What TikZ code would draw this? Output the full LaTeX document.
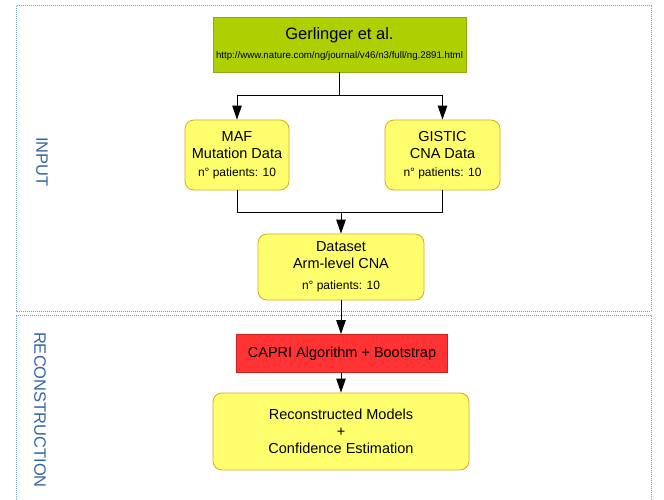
\documentclass[tikz,border=0pt]{standalone}
\usepackage{fontspec}
\setmainfont{Liberation Sans}
\usetikzlibrary{arrows.meta}
\definecolor{ybox}{HTML}{FFFF6D}
\definecolor{yedge}{HTML}{D9A81E}
\definecolor{gbox}{HTML}{AECF00}
\definecolor{gedge}{HTML}{8FAA10}
\definecolor{rbox}{HTML}{FF3333}
\definecolor{redge}{HTML}{C9211E}
\definecolor{frameblue}{HTML}{729FCF}
\definecolor{labblue}{HTML}{3465A4}
\tikzset{
  ynode/.style={draw=yedge, fill=ybox, rounded corners=9pt, line width=0.8pt, align=center, inner sep=0pt},
  arr/.style={line width=1pt, -{Triangle[length=14pt,width=9.5pt]}},
  conn/.style={line width=1pt},
  frame/.style={draw=frameblue, line width=1pt, dash pattern=on 1pt off 1pt},
  sidelabel/.style={rotate=-90, text=labblue, font=\fontsize{16.5}{18}\selectfont},
  maintext/.style={font=\fontsize{14.5}{17}\selectfont},
}
\newcommand{\smalltxt}{\fontsize{12}{14}\selectfont}
\begin{document}
\begin{tikzpicture}[x=1pt,y=-1pt]
\useasboundingbox (0,0) rectangle (664,500);
\fill[white] (0,0) rectangle (664,500);
% frames
\draw[frame] (16,6) rectangle (651,311);
\draw[frame] (16,505) -- (16,315) -- (651,315) -- (651,505);
% labels
\node[sidelabel] (inp) at (42,162) {INPUT};
\node[sidelabel] (rec) at (40,410) {RECONSTRUCTION};
% nodes
\node[draw=gedge, fill=gbox, line width=0.8pt, minimum width=253pt, minimum height=55pt, inner sep=0pt, align=center] (ger) at (339.5,44.5)
  {{\fontsize{16.5}{18}\selectfont Gerlinger et al.}\\[7pt]{\fontsize{9.7}{11}\selectfont http://www.nature.com/ng/journal/v46/n3/full/ng.2891.html}};
\node[ynode, maintext, minimum width=104pt, minimum height=70pt] (maf) at (237,155)
  {MAF\\Mutation Data\\[1pt]{\smalltxt n° patients: 10}};
\node[ynode, maintext, minimum width=115pt, minimum height=70pt] (gis) at (442.5,155)
  {GISTIC\\CNA Data\\[1pt]{\smalltxt n° patients: 10}};
\node[ynode, maintext, minimum width=166pt, minimum height=66pt] (ds) at (341,267)
  {Dataset\\Arm-level CNA\\[4pt]{\smalltxt n° patients: 10}};
\node[draw=redge, fill=rbox, line width=0.8pt, maintext, minimum width=211pt, minimum height=38pt, inner sep=0pt] (capri) at (342,353.5)
  {CAPRI Algorithm + Bootstrap};
\node[ynode, maintext, minimum width=256pt, minimum height=77pt] (recm) at (341,431.5)
  {Reconstructed Models\\+\\Confidence Estimation};
% connectors
\coordinate (j1) at (339.5,96);
\coordinate (j2) at (341,212);
\draw[conn] (ger.south) -- (j1);
\draw[arr] (j1) -| (maf.north);
\draw[arr] (j1) -| (gis.north);
\draw[conn] (maf.south) |- (j2);
\draw[conn] (gis.south) |- (j2);
\draw[arr] (j2) -- (ds.north);
\draw[arr] (ds.south) -- (ds.south |- capri.north);
\draw[arr] (capri.south -| recm.north) -- (recm.north);
\end{tikzpicture}
\end{document}
